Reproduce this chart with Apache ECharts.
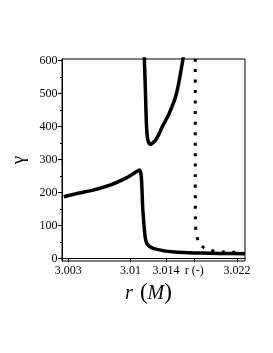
<!DOCTYPE html>
<html>
<head>
<meta charset="utf-8">
<script src="https://cdn.jsdelivr.net/npm/echarts@6/dist/echarts.min.js"></script>
<style>html,body{margin:0;padding:0;background:#fff;}#c{width:273px;height:353px;}</style>
</head>
<body>
<div id="c"></div>
<script>
// Tick labels
const xTickValues = [3.003, 3.01, 3.014, 3.0172, 3.022];
const xTickLabels = ['3.003', '3.01', '3.014', 'r (-)', '3.022'];
const yTickValues = [0, 100, 200, 300, 400, 500, 600];
const yMinorTickValues = [50, 150, 250, 350, 450, 550];

// Lower solid branch
const lowerX = [3.0025, 3.0040, 3.0058, 3.0077, 3.0096, 3.0105, 3.0108, 3.0110, 3.01108, 3.01115, 3.01121, 3.01127, 3.01133, 3.01139, 3.0115, 3.0116, 3.01168, 3.01176, 3.01186, 3.0120, 3.0122, 3.0125, 3.0129, 3.0134, 3.0140, 3.0150, 3.0165, 3.0180, 3.0200, 3.0229];
const lowerY = [187, 197, 207, 222, 245, 260, 265, 268, 266, 262, 252, 230, 190, 150, 111, 80, 62, 52, 45, 40, 35, 31, 28, 25, 22, 19, 17, 16, 15, 14];

// Upper U-shaped solid branch
const upperX = [3.01156, 3.01168, 3.01175, 3.0118, 3.01185, 3.01192, 3.012, 3.01208, 3.01217, 3.01225, 3.0124, 3.01258, 3.0128, 3.01316, 3.0136, 3.01429, 3.0147, 3.01504, 3.01535, 3.01561, 3.01587, 3.01597];
const upperY = [615, 516, 450, 410, 385, 367, 356, 350, 347, 346, 348, 352, 358, 374, 400, 435, 462, 486, 520, 557, 597, 615];

// Dotted branch
const dotX = [3.0173, 3.0173, 3.01732, 3.01740, 3.01767, 3.0181, 3.01843, 3.0190, 3.01964, 3.0208, 3.0215, 3.0222];
const dotY = [606, 300, 110, 80, 50, 36, 30, 25, 21, 19, 18.5, 18];

const zip = (xs, ys) => xs.map((x, i) => [x, ys[i]]);

const serif = 'Liberation Serif';
const chart = echarts.init(document.getElementById('c'), null, {renderer: 'canvas'});
chart.setOption({
  backgroundColor: '#fff',
  animation: false,
  grid: {left: 62, right: 28, top: 59, bottom: 92, show: true, borderColor: '#000', borderWidth: 1, backgroundColor: 'transparent'},
  xAxis: {
    type: 'value', min: 3.0023, max: 3.0229,
    name: '{i|r}{s|}{p|(}{i|M}{p|)}',
    nameLocation: 'middle', nameGap: 15,
    nameTextStyle: {
      padding: [0, 10, 0, 0],
      rich: {
        i: {fontFamily: serif, fontStyle: 'italic', fontSize: 20, color: '#000'},
        s: {width: 7},
        p: {fontFamily: serif, fontSize: 23, color: '#000'}
      }
    },
    axisLine: {show: true, lineStyle: {color: '#000', width: 1}},
    axisTick: {show: true, length: 4, customValues: xTickValues, lineStyle: {color: '#000'}},
    axisLabel: {
      customValues: xTickValues, margin: 4,
      fontFamily: serif, fontSize: 12, color: '#000',
      formatter: v => {
        const i = xTickValues.findIndex(t => Math.abs(t - v) < 1e-7);
        return i >= 0 ? xTickLabels[i] : '';
      }
    },
    splitLine: {show: false}
  },
  yAxis: [{
    type: 'value', min: -8, max: 605,
    name: 'γ', nameLocation: 'middle', nameGap: 29, nameRotate: 90,
    nameTextStyle: {fontFamily: serif, fontSize: 19, color: '#000'},
    axisLine: {show: true, lineStyle: {color: '#000', width: 1}},
    axisTick: {show: true, length: 4, customValues: yTickValues, lineStyle: {color: '#000'}},
    axisLabel: {customValues: yTickValues, margin: 4.5, fontFamily: serif, fontSize: 12, color: '#000'},
    splitLine: {show: false}
  }, {
    type: 'value', min: -8, max: 605, position: 'left', offset: 0,
    axisLine: {show: false},
    axisTick: {show: true, length: 2, customValues: yMinorTickValues, lineStyle: {color: '#000'}},
    axisLabel: {show: false},
    splitLine: {show: false}
  }],
  series: [
    {type: 'line', data: zip(lowerX, lowerY), showSymbol: false, smooth: 0.15, clip: true,
     lineStyle: {color: '#000', width: 3.5, join: 'round'}},
    {type: 'line', data: zip(upperX, upperY), showSymbol: false, smooth: 0.15, clip: true,
     lineStyle: {color: '#000', width: 3.5, join: 'round'}},
    {type: 'line', data: zip(dotX, dotY), showSymbol: false, smooth: 0.3, clip: true,
     lineStyle: {color: '#000', width: 3, type: [3, 7.5], cap: 'butt'}}
  ]
});
</script>
</body>
</html>
